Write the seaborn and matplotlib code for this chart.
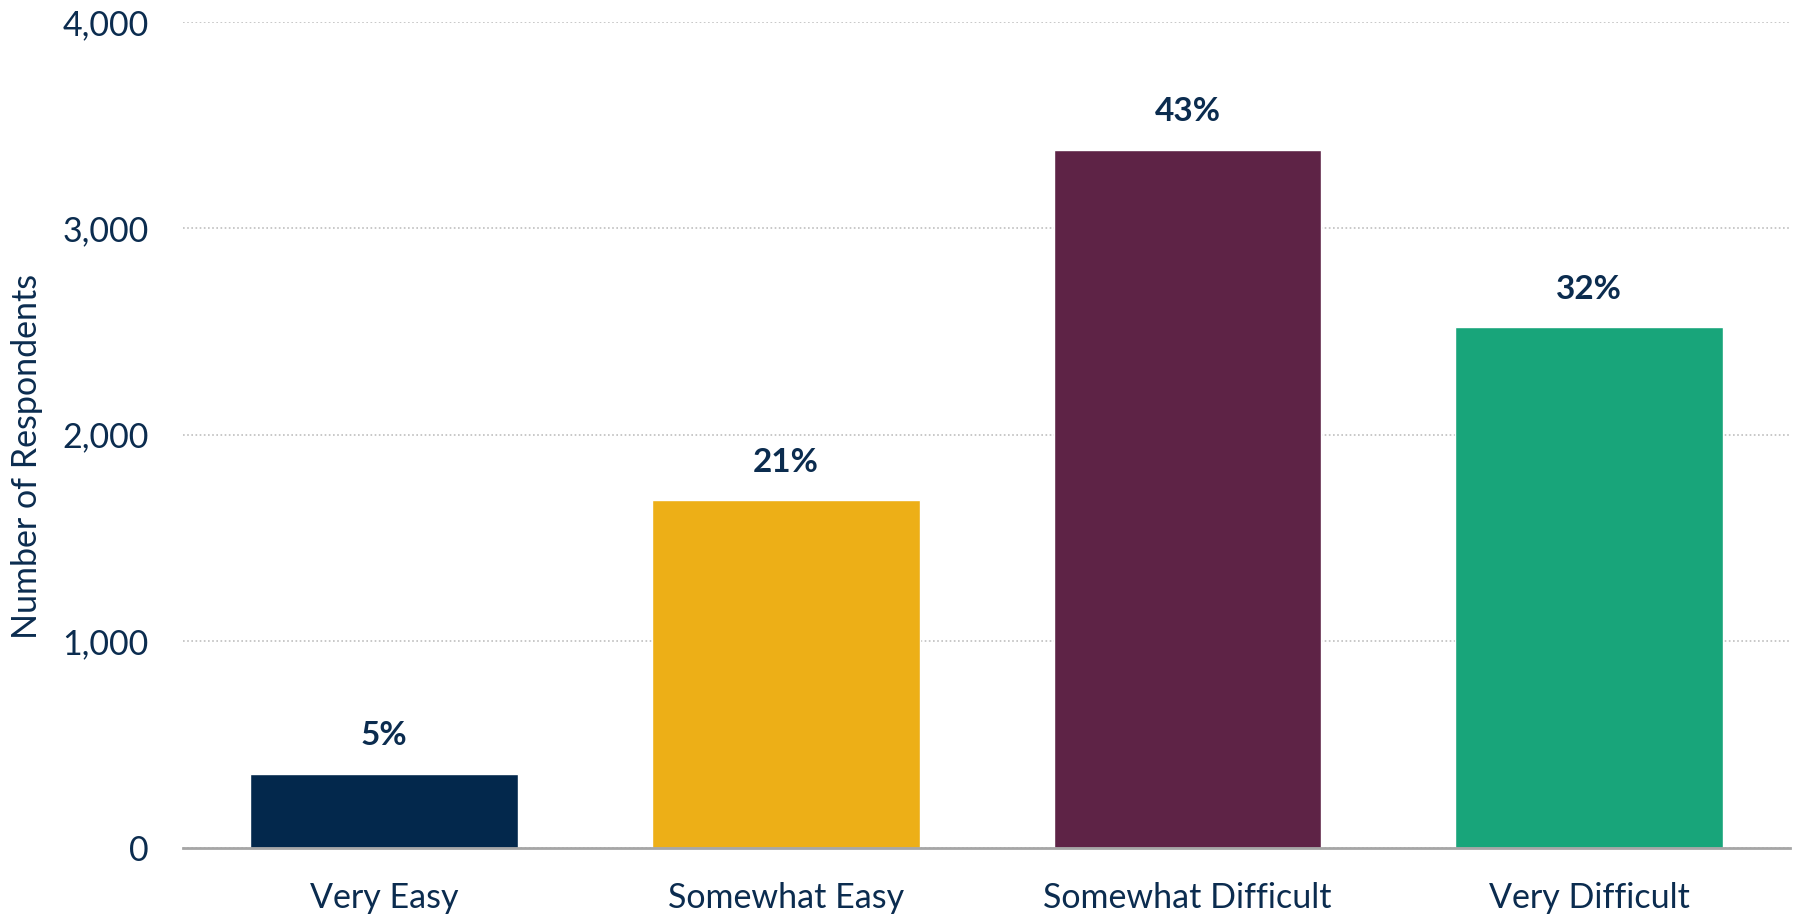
import pandas as pd
import seaborn as sns
import matplotlib.pyplot as plt
from matplotlib.ticker import FuncFormatter

# values
categories = ['Very Easy', 'Somewhat Easy', 'Somewhat Difficult', 'Very Difficult']
respondents = [357, 1682, 3381, 2521]
pct_labels = ['5%', '21%', '43%', '32%']
bar_colors = ['#03284C', '#EDAF17', '#5E2346', '#18A57A']

text_col = '#0B2C4F'

df = pd.DataFrame({'Ease': categories, 'Respondents': respondents})

sns.set_style('white')
plt.rcParams['font.family'] = ['Lato', 'DejaVu Sans']

fig, ax = plt.subplots(figsize=(17.96, 9.15), dpi=100)
fig.subplots_adjust(left=0.102, right=0.9967, top=0.976, bottom=0.0737)

sns.barplot(x='Ease', y='Respondents', data=df, hue='Ease', palette=bar_colors,
            legend=False, width=0.667, saturation=1, ax=ax)

ax.set_ylim(0, 4000)
ax.set_xlim(-0.5, 3.5)
ax.set_yticks([0, 1000, 2000, 3000, 4000])
ax.yaxis.set_major_formatter(FuncFormatter(lambda v, p: f'{int(v):,}'))

ax.grid(axis='y', color='#BFBFBF', linestyle=(0, (1, 1.5)), linewidth=1.2)
ax.set_axisbelow(True)
for s in ['top', 'right', 'left']:
    ax.spines[s].set_visible(False)
ax.spines['bottom'].set_color('#A6A6A6')
ax.spines['bottom'].set_linewidth(2)

ax.tick_params(axis='both', length=0, labelsize=24.5, labelcolor=text_col)
ax.tick_params(axis='y', pad=25)
ax.tick_params(axis='x', pad=25)
ax.set_xlabel('')
ax.set_ylabel('Number of Respondents', fontsize=24.5, color=text_col)
ax.yaxis.set_label_coords(-0.0875, 0.474)

# percentage labels above bars
for i, (v, lab) in enumerate(zip(respondents, pct_labels)):
    ax.annotate(lab, (i, v), xytext=(0, 17), textcoords='offset points',
                ha='center', va='bottom', fontsize=24, fontweight='bold', color=text_col)

plt.savefig('out.png', dpi=100)
